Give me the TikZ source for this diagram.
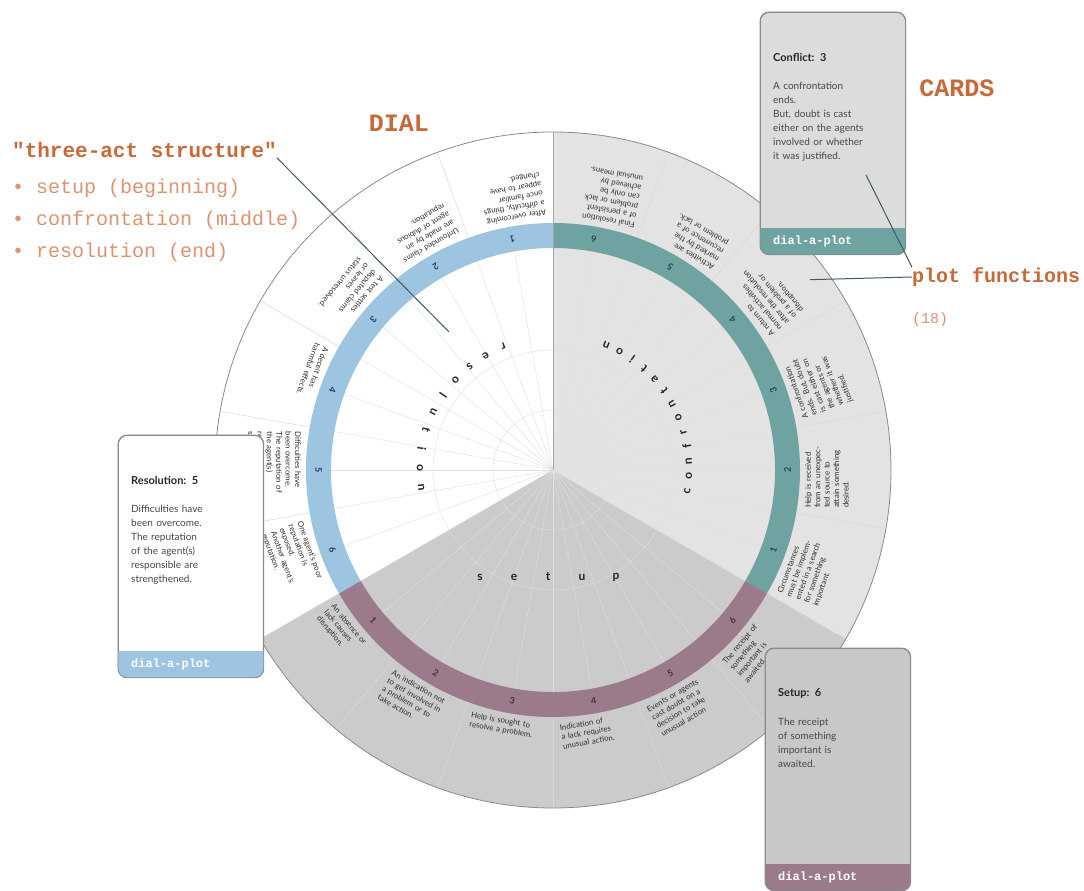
\documentclass[tikz,border=0pt]{standalone}
\usepackage{fontspec}
\setmainfont{Lato}
\newfontfamily\courier{Liberation Mono}
\usetikzlibrary{positioning,calc}
\definecolor{Rust}{HTML}{C8693A}
\definecolor{RustLight}{HTML}{DB9372}
\definecolor{RingBlue}{HTML}{9DC4E0}
\definecolor{RingTeal}{HTML}{6FA3A1}
\definecolor{RingPlum}{HTML}{9B7A8C}
\definecolor{BlueInk}{HTML}{1F3C5C}
\definecolor{TealInk}{HTML}{1D4846}
\definecolor{PlumInk}{HTML}{4A2B3B}
\definecolor{ConfGray}{HTML}{E3E3E3}
\definecolor{SetGray}{HTML}{CBCBCB}
\definecolor{CardLight}{HTML}{DCDCDC}
\definecolor{CardDark}{HTML}{C8C8C8}
\definecolor{Edge}{HTML}{8A8A8A}
\definecolor{Leader}{HTML}{3D5C68}
\tikzset{
  slot/.style={font=\fontsize{7.8}{9.4}\selectfont, text width=76pt, align=left,
               inner sep=1pt, anchor=north, text=black!82},
  num/.style={font=\fontsize{9}{9}\selectfont\bfseries, inner sep=0pt},
  act/.style={font=\fontsize{12}{12}\selectfont\bfseries, inner sep=0pt, text=black!85},
  rim/.style={draw=black!15, line width=0.5pt},
  ray/.style={draw=black!12, line width=0.4pt},
  card/.style={draw=Edge, line width=0.8pt, rounded corners=9pt, minimum width=145pt,
               minimum height=242pt, inner sep=0pt},
  cardtitle/.style={font=\fontsize{11}{13}\selectfont\bfseries, anchor=west, inner sep=0pt,
                    text=black!85},
  cardbody/.style={font=\fontsize{10}{14}\selectfont, text width=124pt, align=left,
                   anchor=north west, inner sep=0pt, text=black!72},
  cardfoot/.style={font=\courier\bfseries\fontsize{12}{12}\selectfont, text=white,
                   anchor=west, inner sep=0pt},
  rust/.style={font=\courier\bfseries\fontsize{25}{25}\selectfont, text=Rust, inner sep=0pt},
  rustnote/.style={font=\courier\fontsize{20}{20}\selectfont, text=RustLight, anchor=west,
                   inner sep=0pt},
  leader/.style={draw=Leader, line width=1pt},
}
% a plot card: name, top-left corner, fill, footer colour, title, text
\newcommand{\plotcard}[6]{%
  \node[card, fill=#3, anchor=north west] (#1) at (#2) {};
  \begin{scope}
    \clip[rounded corners=9pt] (#1.south west) rectangle (#1.north east);
    \fill[#4] (#1.south west) rectangle ([yshift=27pt]#1.south east);
  \end{scope}
  \draw[Edge, line width=0.8pt, rounded corners=9pt] (#1.south west) rectangle (#1.north east);
  \node[cardtitle] at ([xshift=13pt,yshift=-45pt]#1.north west) {#5};
  \node[cardbody] at ([xshift=13pt,yshift=-70pt]#1.north west) {#6};
  \node[cardfoot] at ([xshift=13pt,yshift=13.5pt]#1.south west) {dial-a-plot};
}

\begin{document}
\begin{tikzpicture}[x=1pt, y=1pt]
  \useasboundingbox (-553,-421) rectangle (531,470);
  \fill[white] (-553,-421) rectangle (531,470);

  % the dial: three acts
  \fill[ConfGray] (0,0) -- (-30:338pt) arc[start angle=-30, end angle=90, radius=338pt] -- cycle;
  \fill[SetGray] (0,0) -- (210:338pt) arc[start angle=210, end angle=330, radius=338pt] -- cycle;
  \foreach \a in {0,10,...,350}
    \draw[ray] (0,0) -- (\a:222pt);
  \foreach \r in {60,120}
    \draw[ray] (0,0) circle[radius=\r pt];
  \fill[RingBlue] (90:222pt) arc[start angle=90, end angle=210, radius=222pt]
    -- (210:247pt) arc[start angle=210, end angle=90, radius=247pt] -- cycle;
  \fill[RingTeal] (-30:222pt) arc[start angle=-30, end angle=90, radius=222pt]
    -- (90:247pt) arc[start angle=90, end angle=-30, radius=247pt] -- cycle;
  \fill[RingPlum] (210:222pt) arc[start angle=210, end angle=330, radius=222pt]
    -- (330:247pt) arc[start angle=330, end angle=210, radius=247pt] -- cycle;
  \foreach \a in {10,30,...,350}
    \draw[rim] (\a:247pt) -- (\a:338pt);
  \draw[black!35, line width=0.6pt] (0,0) -- (90:338pt);
  \draw[Edge, line width=0.8pt] (0,0) circle[radius=338pt];

  % slot numbers
  \foreach \n in {1,...,6} {
    \node[num, text=PlumInk, rotate={290+20*\n}] at ({200+20*\n}:234.5pt) {\n};
    \node[num, text=TealInk, rotate={50+20*\n}] at ({320+20*\n}:234.5pt) {\n};
    \node[num, text=BlueInk, rotate={170+20*\n}] at ({80+20*\n}:234.5pt) {\n};
  }

  % plot functions round the rim
  \foreach \n/\txt in {
      1/{An absence or\\ lack causes\\ disruption.},
      2/{An indication not\\ to get involved in\\ a problem or to\\ take action.},
      3/{Help is sought to\\ resolve a problem.},
      4/{Indication of\\ a lack requires\\ unusual action.},
      5/{Events or agents\\ cast doubt on a\\ decision to take\\ unusual action},
      6/{The receipt of\\ something\\ important is\\ awaited.}}
    \node[slot, rotate={290+20*\n}] at ({200+20*\n}:251pt) {\txt};
  \foreach \n/\txt in {
      1/{Circumstances\\ must be implem-\\ ented in a search\\ for something\\ important.},
      2/{Help is received\\ from an unexpec-\\ ted source to\\ attain something\\ desired.},
      3/{A confrontation\\ ends. But, doubt\\ is cast either on\\ the agents or\\ whether it was\\ justified.},
      4/{A return to\\ normal activities\\ after the resolution\\ of a problem or\\ disruption.},
      5/{Activities are\\ marked by the\\ recurrence of a\\ problem or lack.},
      6/{Final resolution\\ of a persistent\\ problem or lack\\ can only be\\ achieved by\\ unusual means.}}
    \node[slot, rotate={50+20*\n}] at ({320+20*\n}:251pt) {\txt};
  \foreach \n/\txt in {
      1/{After overcoming\\ a difficulty, things\\ once familiar\\ appear to have\\ changed.},
      2/{Unfounded claims\\ are made by an\\ agent of dubious\\ reputation.},
      3/{A test settles\\ disputed claims\\ or leaves\\ status unresolved.},
      4/{A deceit has\\ harmful effects.},
      5/{Difficulties have\\ been overcome.\\ The reputation of\\ the agent(s)\\ responsible is\\ strengthened.},
      6/{One agent's poor\\ reputation is\\ exposed.\\ Another agent's\\ reputation.}}
    \node[slot, rotate={170+20*\n}] at ({80+20*\n}:251pt) {\txt};

  % act names
  \foreach \l [count=\i] in {r,e,s,o,l,u,t,i,o,n}
    \node[act, rotate={202+8.4*(\i-1)}] at ({112+8.4*(\i-1)}:133pt) {\l};
  \foreach \l [count=\i] in {c,o,n,f,r,o,n,t,a,t,i,o,n}
    \node[act, rotate={81+6.33*(\i-1)}] at ({-9+6.33*(\i-1)}:136pt) {\l};
  \foreach \l [count=\i] in {s,e,t,u,p}
    \node[act] at ({-73+34*(\i-1)}, -107) {\l};

  % notes
  \node[rust] (dial) at (-154,347) {DIAL};
  \node[rust] (cards) at (404,382) {CARDS};
  \node[rust, anchor=west, font=\courier\bfseries\fontsize{21}{21}\selectfont] (threeact)
    at (-541,320) {"three-act structure"};
  \node[rustnote] (beginning) at (-541,282) {• setup (beginning)};
  \node[rustnote] (middle) at (-541,250) {• confrontation (middle)};
  \node[rustnote] (end) at (-541,218) {• resolution (end)};
  \node[rust, anchor=west, font=\courier\bfseries\fontsize{20}{20}\selectfont] (plotfn)
    at (359,193) {plot functions};
  \node[rustnote, font=\courier\fontsize{15}{15}\selectfont] (count) at (359,150) {(18)};

  \coordinate (resaim) at (127:173pt);
  \coordinate (rimaim) at (36.5:320pt);
  \draw[leader] (threeact.south east) -- (resaim);
  \draw[leader] (plotfn.west) -- (rimaim);

  % the cards
  \plotcard{conflict}{207,458}{CardLight}{RingTeal}{Conflict:\enspace 3}
    {A confrontation\\ ends.\\ But, doubt is cast\\ either on the agents\\ involved or whether\\ it was justified.}
  \plotcard{setupcard}{212,-178}{CardDark}{RingPlum}{Setup:\enspace 6}
    {The receipt\\ of something\\ important is\\ awaited.}
  \plotcard{rescard}{-435,35}{white}{RingBlue}{Resolution:\enspace 5}
    {Difficulties have\\ been overcome.\\ The reputation\\ of the agent(s)\\ responsible are\\ strengthened.}

  \coordinate (cardaim) at (313,295);
  \draw[leader] (cardaim) -- (plotfn.north west);
\end{tikzpicture}
\end{document}
